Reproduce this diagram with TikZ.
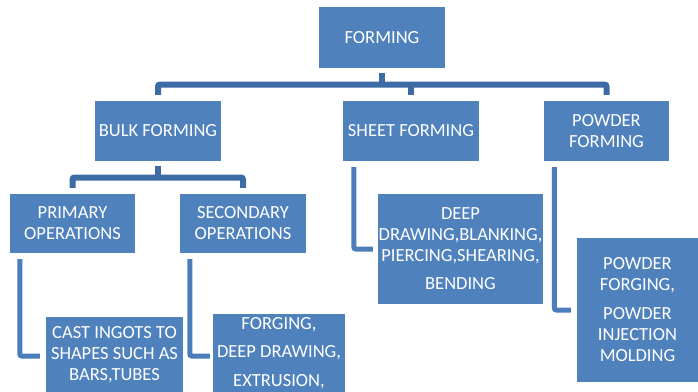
\documentclass[tikz,border=0pt]{standalone}
\usepackage{fontspec}
\setmainfont{Carlito}
\definecolor{boxblue}{HTML}{4F81BD}
\definecolor{busblue}{HTML}{3D6BA5}
\definecolor{elbowblue}{HTML}{4A7DBA}
\begin{document}
\begin{tikzpicture}[x=1pt,y=-1pt,
  box/.style={fill=boxblue,text=white,font=\fontsize{18.5}{21}\selectfont,align=center,inner sep=0pt},
  busline/.style={draw=busblue,line width=6pt,rounded corners=2pt},
  elbow/.style={draw=elbowblue,line width=5pt,rounded corners=2pt}]
\clip (0,0) rectangle (698,391);
\fill[white] (0,0) rectangle (698,391);
% boxes
\node[box,minimum width=126pt,minimum height=61pt] (forming) at (382,37.5) {FORMING};
\node[box,minimum width=126pt,minimum height=60pt] (bulk) at (158,131) {BULK FORMING};
\node[box,minimum width=136pt,minimum height=60pt] (sheet) at (411,131) {SHEET FORMING};
\node[box,minimum width=125pt,minimum height=60pt] (powder) at (606.5,131) {POWDER\\FORMING};
\node[box,minimum width=125pt,minimum height=59pt] (primary) at (72.5,223.5) {PRIMARY\\OPERATIONS};
\node[box,minimum width=126pt,minimum height=59pt] (secondary) at (243,223.5) {SECONDARY\\OPERATIONS};
\node[box,minimum width=137pt,minimum height=76pt] (cast) at (114.5,355) {CAST INGOTS TO\\SHAPES SUCH AS\\BARS,TUBES};
\node[box,minimum width=132pt,minimum height=78pt] (forge) at (279,353) {FORGING,\\[7.5pt]DEEP DRAWING,\\[7.5pt]EXTRUSION,};
\node[box,minimum width=165pt,minimum height=110pt] (deep) at (460.5,249) {DEEP\\DRAWING,BLANKING,\\PIERCING,SHEARING,\\[7pt]BENDING};
\node[box,minimum width=121pt,minimum height=144pt] (pwdops) at (637.5,310) {POWDER\\FORGING,\\[8pt]POWDER\\INJECTION\\MOLDING};
% bus levels
\coordinate (busA) at (0,84.5);
\coordinate (busB) at (0,177.5);
% top level connectors
\draw[busline] ([yshift=-5pt]forming.south) -- (forming.south |- busA);
\draw[busline] ([yshift=6pt]bulk.north) |- (powder.north |- busA) -- ([yshift=6pt]powder.north);
\draw[busline] ([yshift=6pt]sheet.north) -- (sheet.north |- busA);
% bulk forming connectors
\draw[busline] ([yshift=-5pt]bulk.south) -- (bulk.south |- busB);
\draw[busline] ([yshift=6pt]primary.north) |- (secondary.north |- busB) -- ([yshift=6pt]secondary.north);
% elbow connectors
\draw[elbow] ([xshift=10pt,yshift=-6pt]primary.south west) |- ([xshift=-6pt,yshift=-1pt]cast.west);
\draw[elbow] ([xshift=10pt,yshift=-6pt]secondary.south west) |- ([xshift=-3pt,yshift=-3pt]forge.west);
\draw[elbow] ([xshift=11pt,yshift=-6pt]sheet.south west) |- ([xshift=-5pt]deep.west);
\draw[elbow] ([xshift=10.5pt,yshift=-6pt]powder.south west) |- ([xshift=-6pt]pwdops.west);
\end{tikzpicture}
\end{document}
